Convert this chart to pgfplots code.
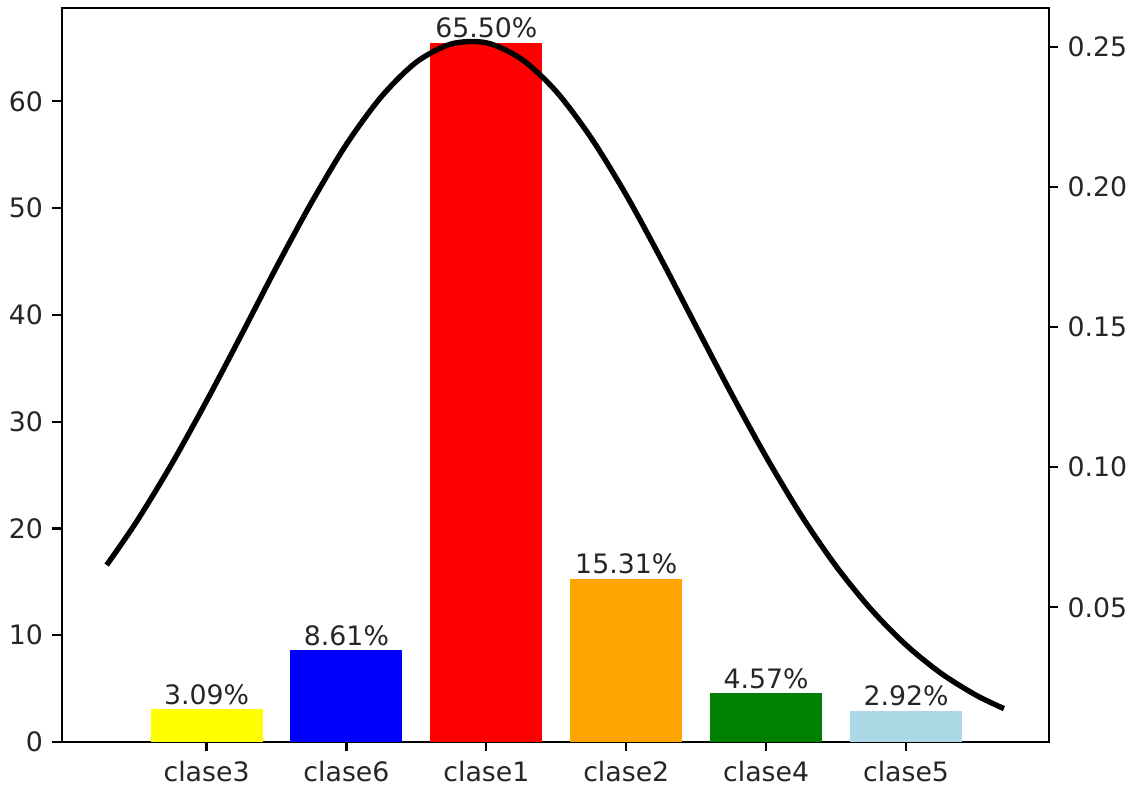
\documentclass[border={0pt 0pt 0pt 2.5pt}]{standalone}
\usepackage{pgfplots}
\pgfplotsset{compat=1.18}
\usepackage{fontspec}
\setmainfont{DejaVu Sans}
\definecolor{mpyellow}{HTML}{FFFF00}
\definecolor{mpblue}{HTML}{0000FF}
\definecolor{mpred}{HTML}{FF0000}
\definecolor{mporange}{HTML}{FFA500}
\definecolor{mpgreen}{HTML}{008000}
\definecolor{mplightblue}{HTML}{ADD8E6}
\definecolor{mptext}{HTML}{262626}
\begin{document}
\begin{tikzpicture}
\pgfplotsset{
  base/.style={
    scale only axis, width=369pt, height=274.5pt,
    xmin=-1.035, xmax=6.02,
    tick align=outside, major tick length=3.5pt,
    every tick/.style={black, line width=0.8pt},
    tick label style={font=\fontsize{10}{12}\selectfont, text=mptext},
    /pgf/number format/assume math mode=true,
  }
}
\begin{axis}[base,
  ymin=0, ymax=68.775,
  axis line style={line width=0.8pt},
  xtick={0,1,2,3,4,5},
  xticklabels={clase3,clase6,clase1,clase2,clase4,clase5},
  ytick={0,10,20,30,40,50,60},
  xtick pos=bottom, ytick pos=left,
  ybar, bar width=0.8, bar shift=0pt,
  nodes near coords={\pgfmathprintnumber[fixed,fixed zerofill,precision=2]{\pgfplotspointmeta}\%},
  nodes near coords style={font=\fontsize{10}{12}\selectfont, text=mptext, inner sep=1.5pt, anchor=south},
]
\addplot[fill=mpyellow, draw=none] coordinates {(0,3.09)};
\addplot[fill=mpblue, draw=none] coordinates {(1,8.61)};
\addplot[fill=mpred, draw=none] coordinates {(2,65.50)};
\addplot[fill=mporange, draw=none] coordinates {(3,15.31)};
\addplot[fill=mpgreen, draw=none] coordinates {(4,4.57)};
\addplot[fill=mplightblue, draw=none] coordinates {(5,2.92)};
\end{axis}
\begin{axis}[base,
  ymin=0.002, ymax=0.2639,
  axis x line=none, axis y line*=right,
  axis line style={line width=0.8pt},
  ytick={0.05,0.10,0.15,0.20,0.25},
  yticklabel style={/pgf/number format/.cd, fixed, fixed zerofill, precision=2},
  scaled y ticks=false,
]
\addplot[black, line width=2pt, smooth, no marks] coordinates {
(-0.714,0.0651) (-0.5,0.0806) (-0.25,0.1011) (0,0.1236) (0.25,0.1473)
(0.5,0.1714) (0.75,0.1944) (1.0,0.2152) (1.25,0.2322) (1.5,0.2445)
(1.75,0.2510) (2.0,0.2514) (2.25,0.2456) (2.5,0.2340)
(2.75,0.2174) (3.0,0.1971) (3.25,0.1742) (3.5,0.1502) (3.75,0.1264)
(4.0,0.1037) (4.25,0.0829) (4.5,0.0647) (4.75,0.0493) (5.0,0.0366)
(5.25,0.0265) (5.5,0.0187) (5.7,0.0139)
};
\end{axis}
\end{tikzpicture}
\end{document}
